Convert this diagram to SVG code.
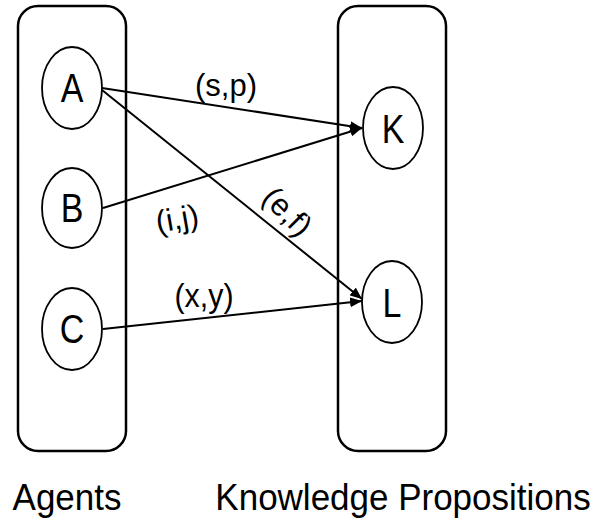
<svg xmlns="http://www.w3.org/2000/svg" width="609" height="518" viewBox="0 0 609 518">
<style>
.box{fill:none;stroke:#000;stroke-width:2.5}
.node{fill:#fff;stroke:#000;stroke-width:1.8}
.lbl{font-family:"Liberation Sans",Arial,sans-serif;fill:#000;text-anchor:middle}
.nl{font-size:34px}
.el{font-size:31px}
.cap{font-size:35px}
.edge{stroke:#000;stroke-width:2;fill:none;marker-end:url(#arr)}
</style>
<defs>
<marker id="arr" viewBox="0 0 12 10" refX="12" refY="5" markerWidth="12" markerHeight="10" markerUnits="userSpaceOnUse" orient="auto">
<path d="M0,0 L12,5 L0,10 z" fill="#000"/>
</marker>
</defs>
<rect width="609" height="518" fill="#fff"/>
<g id="agents">
<rect class="box" x="18" y="6" width="108" height="445" rx="20"/>
<text class="lbl cap" transform="translate(67,510) scale(1,1.08)">Agents</text>
</g>
<g id="propositions">
<rect class="box" x="338" y="6" width="108" height="445" rx="20"/>
<text class="lbl cap" transform="translate(403,510) scale(1,1.08)">Knowledge Propositions</text>
</g>
<g id="connectors">
<line class="edge" x1="102" y1="88" x2="362" y2="128"/>
<line class="edge" x1="102" y1="90" x2="362" y2="299"/>
<line class="edge" x1="103" y1="208" x2="362" y2="128"/>
<line class="edge" x1="103" y1="329" x2="362" y2="301"/>
<text class="lbl el" x="226" y="96">(s,p)</text>
<text class="lbl el" transform="translate(179,229) rotate(-10)">(i,j)</text>
<text class="lbl el" transform="translate(280,219) rotate(45)">(e,f)</text>
<text class="lbl el" transform="translate(204,307) scale(0.98,1.05)">(x,y)</text>
</g>
<g id="A"><ellipse class="node" cx="72" cy="88" rx="30" ry="41"/><text class="lbl nl" transform="translate(72,102) scale(1,1.18)">A</text></g>
<g id="B"><ellipse class="node" cx="72" cy="208" rx="30" ry="40"/><text class="lbl nl" transform="translate(72,222) scale(1,1.18)">B</text></g>
<g id="C"><ellipse class="node" cx="72" cy="329" rx="30" ry="41"/><text class="lbl nl" transform="translate(72,343) scale(1,1.18)">C</text></g>
<g id="K"><ellipse class="node" cx="393" cy="128" rx="30" ry="41"/><text class="lbl nl" transform="translate(393,143) scale(1,1.18)">K</text></g>
<g id="L"><ellipse class="node" cx="392" cy="302" rx="30" ry="41"/><text class="lbl nl" transform="translate(392,317) scale(1,1.18)">L</text></g>
</svg>
